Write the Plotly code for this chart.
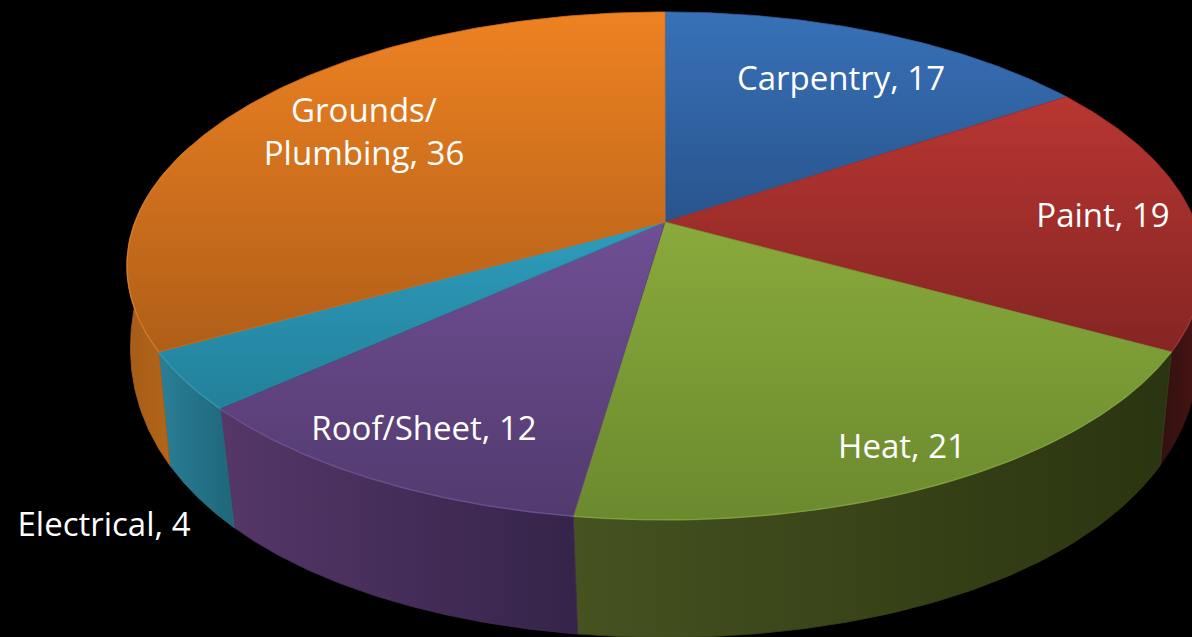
import numpy as np
import plotly.graph_objects as go

categories = ["Carpentry", "Paint", "Heat", "Roof/Sheet", "Electrical", "Grounds/<br>Plumbing"]
values = [17, 19, 21, 12, 4, 36]

top_colors = [["#28548c", "#3871b8"], ["#852523", "#b83632"], ["#6a8a2e", "#8aaa3c"],
              ["#523a6e", "#704f95"], ["#22809a", "#2e9cbc"], ["#b05e18", "#ee8222"]]
side_colors = [["#1d3a60", "#1d3a60"], ["#30100f", "#4a1514"], ["#465220", "#2a3410"],
               ["#553768", "#35244a"], ["#2a7f96", "#1f6678"], ["#a65c18", "#b2661a"]]
top_edges = ["#305f9f", "#9e2d2b", "#7b9c36", "#604481", "#2990ad", "#d0701e"]
side_edges = ["#1d3a60", "#3d1211", "#384318", "#452d59", "#257288", "#ac611a"]
rim_colors = ["#5a8cd0", "#d05a55", "#a5c860", "#9a78c0", "#55bcd8", "#ffa040"]
label_x = [841, 1103, 902, 424, 104, 364]
label_y = [82, 219, 450, 432, 528, 135]

CX, CY = 665.0, 222.0
A, B, K = 530.0, 246.4, 0.173
A2, K2, Y2, B2 = 530.0, 0.13, 304.5, 333.0
VIS0, VIS1 = np.radians(84), np.radians(276)


def top_ring(t):
    u, v = np.sin(t), np.cos(t)
    d = 1 + K * v
    return CX + A * u / d, CY - B * v / d


def bottom_ring(t):
    u, v = np.sin(t), np.cos(t)
    return CX + A2 * u / (1 + K2 * v), Y2 - B2 * v


fracs = np.cumsum([0] + values) / sum(values) * 2 * np.pi
fig = go.Figure()

# side walls
for i in range(len(values)):
    a0, a1 = max(fracs[i], VIS0), min(fracs[i + 1], VIS1)
    if a1 <= a0:
        continue
    t = np.linspace(a0, a1, 80)
    xa, ya = top_ring(t)
    xb, yb = bottom_ring(t)
    x = np.r_[xa, xb[::-1], xa[0]]
    y = np.r_[ya, yb[::-1], ya[0]]
    fig.add_trace(go.Scatter(
        x=x, y=y, mode="lines", line=dict(width=0.8, color=side_edges[i]), fill="toself", hoverinfo="skip",
        fillgradient=dict(type="horizontal",
                          colorscale=[[0, side_colors[i][0]], [1, side_colors[i][1]]]),
    ))

# top faces
for i in range(len(values)):
    t = np.linspace(fracs[i], fracs[i + 1], 120)
    xa, ya = top_ring(t)
    x = np.r_[CX, xa, CX]
    y = np.r_[CY, ya, CY]
    fig.add_trace(go.Scatter(
        x=x, y=y, mode="lines", line=dict(width=0.8, color=top_edges[i]), fill="toself", hoverinfo="skip",
        fillgradient=dict(type="vertical",
                          colorscale=[[0, top_colors[i][0]], [1, top_colors[i][1]]]),
    ))

# rim highlights
for i in range(len(values)):
    t = np.linspace(fracs[i], fracs[i + 1], 120)
    t = t[(t > np.radians(95)) & (t < np.radians(290))]
    if len(t) < 2:
        continue
    xa, ya = top_ring(t)
    fig.add_trace(go.Scatter(x=xa, y=ya, mode="lines", hoverinfo="skip", opacity=0.3,
                             line=dict(width=1.5, color=rim_colors[i])))

# labels
labels = [f"{c}, {v}" for c, v in zip(categories, values)]
fig.add_trace(go.Scatter(
    x=label_x, y=label_y, mode="text", text=labels, textposition="middle center",
    hoverinfo="skip", textfont=dict(family="Open Sans", size=33, color="#ffffff", weight=500),
))

fig.update_layout(
    width=1192, height=637, margin=dict(l=0, r=0, t=0, b=0), showlegend=False,
    paper_bgcolor="#000000", plot_bgcolor="#000000",
    xaxis=dict(range=[0, 1192], visible=False, fixedrange=True),
    yaxis=dict(range=[637, 0], visible=False, fixedrange=True),
)
fig.write_html("out.html", config={"displayModeBar": False},
               post_script="document.body.style.margin='0';document.body.style.background='#000';document.body.style.overflow='hidden';")
